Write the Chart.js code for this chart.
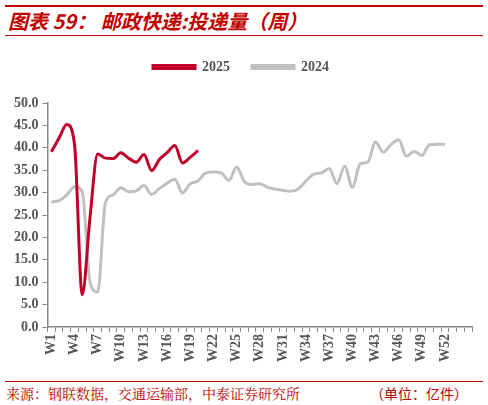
<!DOCTYPE html>
<html><head><meta charset="utf-8">
<script src="https://cdn.jsdelivr.net/npm/chart.js@4"></script>
<style>
body{margin:0;width:488px;height:405px;background:#fff;position:relative;overflow:hidden;font-family:"Noto Sans CJK SC",sans-serif}
#t1{position:absolute;left:5px;top:5px;width:478px;height:2px;background:#c00000}
#title{position:absolute;left:8px;top:7px;font-size:20px;font-style:italic;font-weight:bold;color:#c00000;line-height:27px}
#t2{position:absolute;left:5px;top:35px;width:478px;height:1px;background:#c00000}
#f1{position:absolute;left:5px;top:381px;width:478px;height:1px;background:#c00000}
#src{position:absolute;left:6px;top:383px;font-size:14px;color:#c00000;font-family:"Noto Serif CJK SC","Noto Sans CJK SC",serif}
#unit{position:absolute;left:370px;top:383px;font-size:14px;color:#c00000}
#wrap{position:absolute;left:0;top:38px;width:488px;height:334px}
</style></head><body>
<div id="t1"></div><div id="title">图表 59：&nbsp;邮政快递:投递量（周）</div><div id="t2"></div>
<div id="wrap"><canvas id="c"></canvas></div>
<div id="f1"></div>
<div id="src">来源：钢联数据，交通运输部，中泰证券研究所</div>
<div id="unit">（单位：亿件）</div>
<script>
const weeks = Array.from({length:55},(_,i)=>'W'+(i+1));
const s2025 = [39.1,42.2,45.2,40.8,7.2,24.3,38.6,37.7,37.6,38.9,37.7,36.8,38.5,34.9,37.4,38.9,40.5,36.6,37.9,39.4];
const s2024 = [27.9,28.2,29.5,31.3,30.2,10.1,7.8,27.7,29.5,31.1,30.2,30.4,31.6,29.6,30.9,32.1,33.0,29.9,32.0,32.6,34.4,34.6,34.4,32.7,35.7,32.5,31.8,32.0,31.2,30.8,30.5,30.3,30.8,32.6,34.1,34.4,35.4,32.0,35.9,31.2,36.4,36.8,41.3,39.0,40.7,41.8,38.1,39.2,38.3,40.7,40.8,40.8];
const yTicks = [0,5,10,15,20,25,30,35,40,45,50];
const tickFont = {family:'"Liberation Serif","DejaVu Serif",serif',size:14,weight:'bold'};
new Chart(document.getElementById('c'),{
 type:'line',
 data:{labels:weeks,datasets:[
  {label:'2025',data:s2025,borderColor:'#c0002a',backgroundColor:'#c0002a',borderWidth:3,pointRadius:0,tension:0.4,cubicInterpolationMode:'monotone'},
  {label:'2024',data:s2024,borderColor:'#c0c0c0',backgroundColor:'#c0c0c0',borderWidth:3,pointRadius:0,tension:0.4,cubicInterpolationMode:'monotone'}]},
 options:{responsive:true,maintainAspectRatio:false,animation:false,
  layout:{padding:{left:10,right:16,top:0,bottom:8}},
  plugins:{tooltip:{enabled:false},legend:{position:'top',labels:{boxWidth:42,boxHeight:3,color:'#555',padding:22,font:tickFont},
    afterFit:null}},
  scales:{
   x:{offset:true,grid:{display:true,drawOnChartArea:false,color:'#888',tickLength:5,offset:true},border:{color:'#888',width:1.5},
      ticks:{autoSkip:false,maxRotation:90,minRotation:90,color:'#555',font:tickFont,padding:2,callback:(v,i)=>(i%3===0&&i<52)?weeks[i]:''}},
   y:{min:0,max:50,afterBuildTicks:a=>{a.ticks=yTicks.map(v=>({value:v}))},grid:{display:true,drawOnChartArea:false,color:'#888',tickLength:5},border:{color:'#888',width:1.5},
      ticks:{color:'#555',font:tickFont,padding:4,callback:v=>v.toFixed(1)}}
  }},
 plugins:[{id:'legPad',beforeInit(c){const f=c.legend.fit;c.legend.fit=function(){f.bind(c.legend)();this.height+=19;};}}]
});
</script></body></html>
